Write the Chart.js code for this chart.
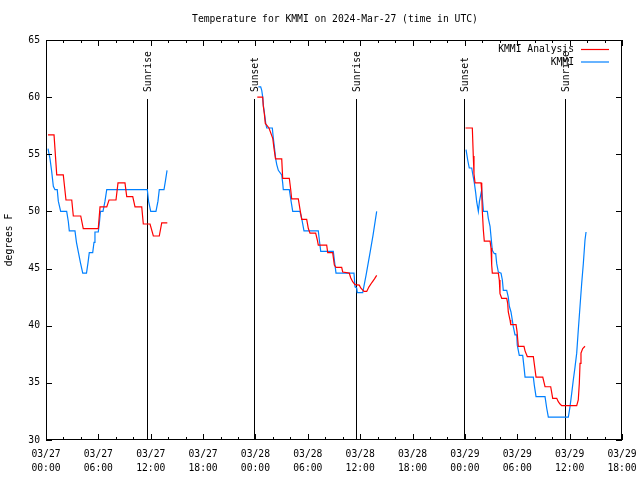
<!DOCTYPE html>
<html><head><meta charset="utf-8">
<script src="https://cdn.jsdelivr.net/npm/chart.js@4/dist/chart.umd.min.js"></script>
<style>html,body{margin:0;padding:0;background:#fff}canvas{display:block}</style>
</head><body>
<canvas id="c" width="640" height="480"></canvas>
<script>
const titleText = 'Temperature for KMMI on 2024-Mar-27 (time in UTC)';
const yAxisLabel = 'degrees F';
const seriesNames = ['KMMI Analysis', 'KMMI'];
const xTickHours = [0, 6, 12, 18, 24, 30, 36, 42, 48, 54, 60, 66];
const xTickDates = ['03/27','03/27','03/27','03/27','03/28','03/28','03/28','03/28','03/29','03/29','03/29','03/29'];
const xTickTimes = ['00:00','06:00','12:00','18:00','00:00','06:00','12:00','18:00','00:00','06:00','12:00','18:00'];
const yTicks = [30, 35, 40, 45, 50, 55, 60, 65];
const sunEventNames = ['Sunrise', 'Sunset', 'Sunrise', 'Sunset', 'Sunrise'];
const sunEventHours = [11.62, 23.87, 35.57, 47.85, 59.5];

// hours since 03/27 00:00 UTC
const analysisHours1 = [0.23,0.92,1.23,1.98,2.29,2.95,3.13,3.98,4.27,5.99,6.19,6.96,7.22,8.02,8.25,9.05,9.25,9.94,10.2,10.97,11.15,11.92,12.3,12.98,13.26,13.9];
const analysisTemps1 = [56.7,56.7,53.2,53.2,51.0,51.0,49.6,49.6,48.5,48.5,50.4,50.4,51.0,51.0,52.5,52.5,51.3,51.3,50.4,50.4,48.9,48.9,47.85,47.85,49.0,49.0];
const analysisHours2 = [24.21,24.83,24.90,25.01,25.13,25.24,25.55,25.98,26.13,26.30,27.01,27.12,27.88,28.04,28.15,28.91,29.10,29.30,29.87,30.06,30.25,30.90,31.09,31.20,32.16,32.28,32.85,33.04,33.23,33.88,34.00,34.75,34.91,35.14,35.41,35.90,36.06,36.44,36.75,37.01,37.36,37.64,37.89];
const analysisTemps2 = [60.0,60.0,59.2,58.6,57.7,57.6,57.3,56.4,55.5,54.6,54.6,52.9,52.9,51.9,51.1,51.1,50.2,49.3,49.3,48.5,48.1,48.1,47.5,47.06,47.06,46.4,46.4,45.3,45.1,45.1,44.7,44.6,44.2,43.85,43.6,43.55,43.3,43.0,43.0,43.4,43.8,44.1,44.4];
const analysisHours3 = [48.07,48.85,48.96,49.04,49.16,49.85,49.93,49.99,50.11,50.22,50.88,50.99,51.07,51.14,51.83,51.94,52.02,52.22,52.79,52.90,52.97,53.17,53.25,53.86,53.97,54.12,54.77,54.89,55.15,55.84,56.15,56.92,57.18,57.83,58.06,58.52,58.70,58.90,59.09,60.81,60.99,61.11,61.19,61.30,61.50,61.76];
const analysisTemps3 = [57.3,57.3,54.85,53.3,52.5,52.5,51.7,50.1,48.4,47.4,47.4,46.8,45.3,44.6,44.6,44.0,42.8,42.4,42.4,41.96,41.2,40.5,40.1,40.1,39.5,38.2,38.2,37.8,37.3,37.3,35.5,35.5,34.66,34.66,33.65,33.65,33.35,33.15,33.0,33.0,33.5,34.96,36.7,37.6,38.0,38.2];

const obsHours1 = [0.23,0.46,0.65,0.84,1.03,1.29,1.41,1.68,2.37,2.56,2.67,3.32,3.49,3.72,3.95,4.21,4.64,4.81,4.96,5.35,5.5,5.61,5.99,6.13,6.24,6.53,6.76,6.96,11.61,11.75,12.0,12.6,12.83,12.98,13.52,13.69,13.87];
const obsTemps1 = [55.5,54.6,53.5,52.2,51.9,51.9,50.9,50.0,50.0,49.1,48.3,48.3,47.3,46.4,45.5,44.6,44.6,45.5,46.4,46.4,47.3,48.2,48.2,49.1,50.0,50.0,50.9,51.9,51.9,50.9,50.0,50.0,50.9,51.9,51.9,52.7,53.6];
const obsHours2 = [24.33,24.60,24.72,24.83,24.90,25.01,25.18,25.29,25.93,26.05,26.16,26.32,26.44,26.62,27.01,27.12,27.19,27.88,28.04,28.27,29.10,29.30,29.56,31.20,31.32,31.48,32.92,33.04,33.23,35.29,35.41,35.60,35.67,36.29,36.67,37.13,37.47,37.89];
const obsTemps2 = [60.9,60.9,60.6,60.0,59.3,58.7,57.7,57.3,57.3,56.4,55.7,54.6,54.1,53.6,53.2,52.5,51.9,51.9,51.1,50.0,50.0,49.4,48.3,48.3,47.5,46.5,46.5,45.75,44.6,44.6,43.4,43.3,42.9,42.9,44.4,46.4,47.9,50.0];
const obsHours3 = [48.13,48.32,48.50,48.78,48.89,49.08,49.24,49.35,49.54,49.67,49.93,50.02,50.13,50.57,50.68,50.88,50.99,51.14,51.37,51.53,51.64,51.83,52.14,52.29,52.40,52.79,52.97,53.09,53.28,53.43,53.55,53.74,53.94,54.00,54.23,54.62,54.77,54.89,55.84,55.95,56.15,57.18,57.37,57.56,59.85,60.04,60.24,60.42,60.62,60.81,60.99,61.19,61.38,61.57,61.76,61.88];
const obsTemps3 = [55.4,54.5,53.8,53.8,53.3,52.5,51.6,50.85,50.0,50.9,51.9,51.0,50.0,50.0,49.4,48.7,47.8,46.6,46.3,46.3,45.45,44.7,44.6,44.0,43.1,43.1,42.5,41.7,41.2,40.5,39.9,39.2,39.2,38.3,37.4,37.4,36.4,35.5,35.5,34.8,33.8,33.8,32.8,32.0,32.0,32.9,34.1,35.25,36.4,37.6,39.6,41.7,43.7,45.45,47.5,48.2];

function joinSegments(pairs) {
  const out = [];
  pairs.forEach(([hs, ts], i) => {
    if (i > 0) out.push({x: (out[out.length - 1].x + hs[0]) / 2, y: null});
    hs.forEach((h, j) => out.push({x: h, y: ts[j]}));
  });
  return out;
}
const analysisData = joinSegments([[analysisHours1, analysisTemps1], [analysisHours2, analysisTemps2], [analysisHours3, analysisTemps3]]);
const obsData = joinSegments([[obsHours1, obsTemps1], [obsHours2, obsTemps2], [obsHours3, obsTemps3]]);

const FONT = "'DejaVu Sans Mono', 'Liberation Mono', monospace";
const FS = 9.7;
const RED = '#ff0000', BLUE = '#0080ff';

const decor = {
  id: 'decor',
  beforeDatasetsDraw(chart) {
    const {ctx, chartArea: a, scales: {x}} = chart;
    ctx.save();
    ctx.strokeStyle = '#000'; ctx.lineWidth = 1; ctx.fillStyle = '#000';
    ctx.font = FS + 'px ' + FONT;
    sunEventHours.forEach((h, i) => {
      const px = Math.round(x.getPixelForValue(h)) + 0.5;
      ctx.beginPath(); ctx.moveTo(px, a.top + 59); ctx.lineTo(px, a.bottom); ctx.stroke();
      ctx.save();
      ctx.translate(px + 1, a.top + 52);
      ctx.rotate(-Math.PI / 2);
      ctx.textAlign = 'left'; ctx.textBaseline = 'middle';
      ctx.fillText(sunEventNames[i], 0, 0);
      ctx.restore();
    });
    ctx.restore();
  },
  afterDraw(chart) {
    const {ctx, chartArea: a, scales: {x, y}} = chart;
    ctx.save();
    ctx.strokeStyle = '#000'; ctx.lineWidth = 1;
    ctx.strokeRect(a.left + 0.5, a.top + 0.5, a.right - a.left - 1, a.bottom - a.top - 1);
    ctx.beginPath();
    for (let h = xTickHours[0]; h <= xTickHours[xTickHours.length - 1]; h += 2) {
      const px = Math.round(x.getPixelForValue(h)) + 0.5;
      const len = xTickHours.includes(h) ? 6 : 3;
      ctx.moveTo(px, a.bottom); ctx.lineTo(px, a.bottom - len);
      ctx.moveTo(px, a.top); ctx.lineTo(px, a.top + len);
    }
    yTicks.forEach(v => {
      const py = Math.round(y.getPixelForValue(v)) + 0.5;
      ctx.moveTo(a.left, py); ctx.lineTo(a.left + 6, py);
      ctx.moveTo(a.right, py); ctx.lineTo(a.right - 6, py);
    });
    ctx.stroke();
    ctx.fillStyle = '#000';
    ctx.font = FS + 'px ' + FONT;
    ctx.textAlign = 'center'; ctx.textBaseline = 'middle';
    ctx.fillText(titleText, (a.left + a.right) / 2 + 1, 19);
    const colors = [RED, BLUE];
    chart.data.datasets.forEach((ds, i) => {
      const ly = a.top + 9.5 + i * 12.5;
      ctx.textAlign = 'right';
      ctx.fillStyle = '#000';
      ctx.fillText(ds.label, a.right - 48, ly);
      ctx.strokeStyle = colors[i]; ctx.lineWidth = 1.2;
      ctx.beginPath(); ctx.moveTo(a.right - 41, ly); ctx.lineTo(a.right - 13, ly); ctx.stroke();
    });
    ctx.restore();
  }
};

new Chart(document.getElementById('c'), {
  type: 'line',
  data: {
    datasets: [
      {label: seriesNames[0], data: analysisData, borderColor: RED, borderWidth: 1.2, pointRadius: 0, tension: 0, spanGaps: false, fill: false},
      {label: seriesNames[1], data: obsData, borderColor: BLUE, borderWidth: 1.2, pointRadius: 0, tension: 0, spanGaps: false, fill: false}
    ]
  },
  options: {
    responsive: false, animation: false, devicePixelRatio: 1,
    layout: {padding: {top: 40, right: 18, left: 0, bottom: 0}},
    plugins: {legend: {display: false}, tooltip: {enabled: false}, title: {display: false}},
    scales: {
      x: {
        type: 'linear', min: xTickHours[0], max: xTickHours[xTickHours.length - 1],
        grid: {display: false, drawTicks: false}, border: {display: false},
        afterBuildTicks: s => { s.ticks = xTickHours.map(v => ({value: v})); },
        afterFit: s => { s.height = 40; s.paddingLeft = 0; s.paddingRight = 0; },
        ticks: {
          autoSkip: false, maxRotation: 0, minRotation: 0, padding: 7, color: '#000',
          font: {family: FONT, size: FS, lineHeight: 1.45},
          callback: v => { const i = xTickHours.indexOf(v); return i < 0 ? '' : [xTickDates[i], xTickTimes[i]]; }
        }
      },
      y: {
        min: yTicks[0], max: yTicks[yTicks.length - 1],
        grid: {display: false, drawTicks: false}, border: {display: false},
        afterBuildTicks: s => { s.ticks = yTicks.map(v => ({value: v})); },
        afterFit: s => { s.width = 46; s.paddingTop = 0; s.paddingBottom = 0; },
        ticks: {padding: 6, color: '#000', font: {family: FONT, size: FS}, callback: v => String(v)},
        title: {display: true, text: yAxisLabel, color: '#000', font: {family: FONT, size: FS}, padding: {top: 4, bottom: 0}}
      }
    }
  },
  plugins: [decor]
});
</script>
</body></html>
